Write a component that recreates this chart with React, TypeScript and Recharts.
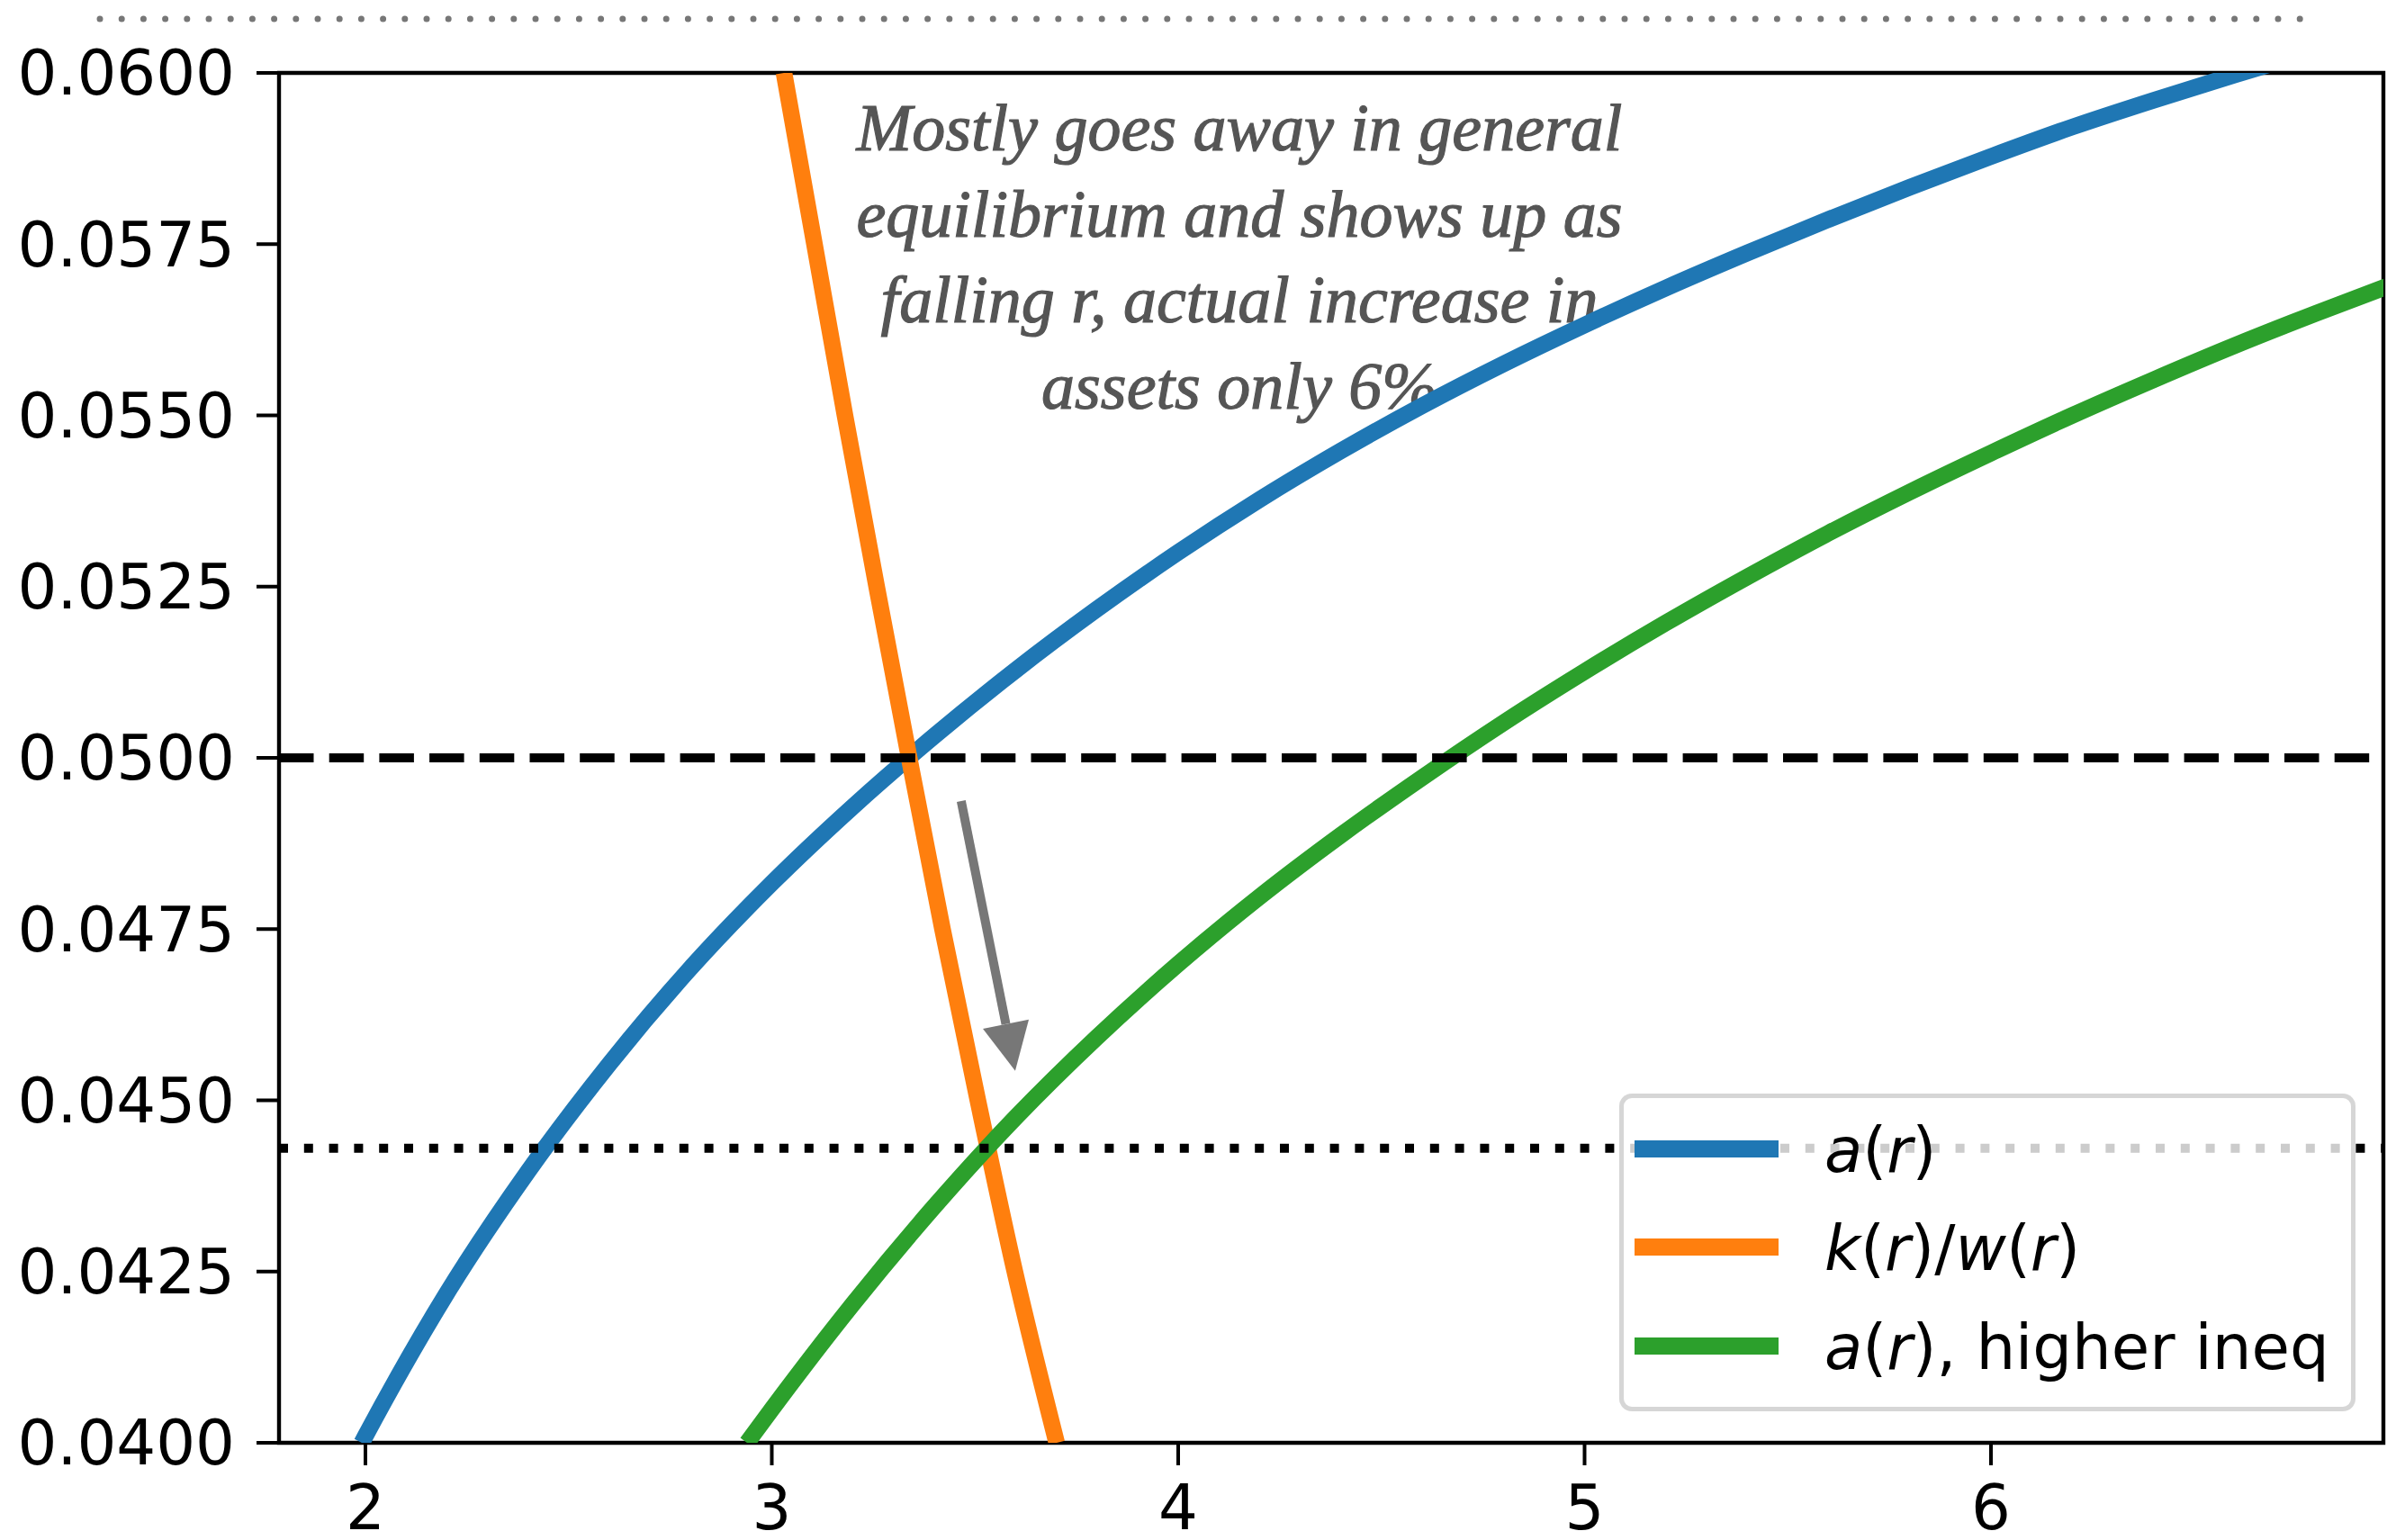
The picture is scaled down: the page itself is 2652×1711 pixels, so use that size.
import {
  ComposedChart,
  Line,
  XAxis,
  YAxis,
  ReferenceLine,
  ReferenceArea,
  Legend,
  Customized,
} from 'recharts';

// a(r)
const blueR = [1.991, 2.0, 2.2, 2.4, 2.6, 2.8, 3.0, 3.2, 3.4, 3.6, 3.8, 4.0, 4.2, 4.4, 4.6, 4.8, 5.0, 5.2, 5.4, 5.6, 5.8, 6.0, 6.2, 6.4, 6.6, 6.7];
const blueA = [0.04000, 0.04010, 0.04218, 0.04396, 0.04553, 0.04693, 0.04817, 0.04929, 0.05032, 0.05128, 0.05217, 0.05300, 0.05377, 0.05448, 0.05514, 0.05575, 0.05632, 0.05686, 0.05737, 0.05786, 0.05833, 0.05878, 0.05921, 0.05960, 0.05997, 0.06015];

// k(r)/w(r)
const orangeR = [3.030, 3.105, 3.180, 3.258, 3.338, 3.420, 3.507, 3.598, 3.701];
const orangeA = [0.0600, 0.0575, 0.0550, 0.0525, 0.0500, 0.0475, 0.0450, 0.0425, 0.0400];

// a(r), higher ineq
const greenR = [2.939, 3.0, 3.2, 3.4, 3.6, 3.8, 4.0, 4.2, 4.4, 4.6, 4.8, 5.0, 5.2, 5.4, 5.6, 5.8, 6.0, 6.2, 6.4, 6.6, 6.8, 7.0];
const greenA = [0.04000, 0.04049, 0.04203, 0.04345, 0.04475, 0.04592, 0.04699, 0.04797, 0.04887, 0.04971, 0.05051, 0.05126, 0.05197, 0.05264, 0.05328, 0.05388, 0.05445, 0.05500, 0.05552, 0.05602, 0.05649, 0.05694];

const xTicks = [2, 3, 4, 5, 6];
const yTicks = [0.04, 0.0425, 0.045, 0.0475, 0.05, 0.0525, 0.055, 0.0575, 0.06];
const xDomain = [1.7874, 6.9657];
const yDomain = [0.04, 0.06];

const dashedLevel = 0.05;
const dottedLevel = 0.0443;
const arrowFrom = [3.466, 0.04937];
const arrowTo = [3.599, 0.04543];

const noteLines = [
  'Mostly goes away in general',
  'equilibrium and shows up as',
  'falling r, actual increase in',
  'assets only 6%',
];

const legendLabels = ['$a(r)$', '$k(r)/w(r)$', '$a(r)$, higher ineq'];
const colors = ['#1f77b4', '#ff7f0e', '#2ca02c'];

const toRows = (xs: number[], ys: number[]) => xs.map((r, i) => ({ r, a: ys[i] }));
const blueData = toRows(blueR, blueA);
const orangeData = toRows(orangeR, orangeA);
const greenData = toRows(greenR, greenA);

const tickFont = { fill: '#000', fontSize: 69, fontFamily: 'DejaVu Sans' };

function ArrowShape(props: any) {
  const { x1, y1, x2, y2 } = props;
  const len = Math.hypot(x2 - x1, y2 - y1) || 1;
  const ux = (x2 - x1) / len;
  const uy = (y2 - y1) / len;
  const bx = x2 - ux * 53;
  const by = y2 - uy * 53;
  const px = -uy * 26;
  const py = ux * 26;
  return (
    <g>
      <line x1={x1} y1={y1} x2={bx} y2={by} stroke="#777777" strokeWidth={10} />
      <polygon points={`${x2},${y2} ${bx + px},${by + py} ${bx - px},${by - py}`} fill="#777777" />
    </g>
  );
}

function Overlay() {
  return (
    <g>
      <line x1={111} y1={21} x2={2562} y2={21} stroke="#777" strokeWidth={7} strokeLinecap="round" strokeDasharray="0 24.2" />
      <text
        x={1377}
        y={167}
        textAnchor="middle"
        fill="#555555"
        stroke="#555555"
        strokeWidth={1.2}
        fontSize={74}
        fontStyle="italic"
        fontFamily="'Liberation Serif', serif"
      >
        {noteLines.map((t, i) => (
          <tspan key={i} x={1377} dy={i === 0 ? 0 : 95.5}>
            {t}
          </tspan>
        ))}
      </text>
    </g>
  );
}

function renderLabel(label: string) {
  return label.split('$').map((part, i) =>
    i % 2 === 1
      ? part.split('').map((ch, j) => (
          <span key={`${i}-${j}`} style={{ fontStyle: /[a-z]/i.test(ch) ? 'oblique' : 'normal' }}>
            {ch}
          </span>
        ))
      : <span key={i}>{part}</span>
  );
}

const rowCenters = [56, 165, 275];

function LegendBox() {
  return (
    <div
      style={{
        position: 'relative',
        width: 818,
        height: 353,
        boxSizing: 'border-box',
        background: 'rgba(255,255,255,0.8)',
        border: '5px solid rgba(204,204,204,0.8)',
        borderRadius: 14,
        fontFamily: 'DejaVu Sans',
        color: '#000',
      }}
    >
      {legendLabels.map((label, i) => (
        <div key={i}>
          <div
            style={{
              position: 'absolute',
              left: 12,
              top: rowCenters[i] - 9.5,
              width: 160,
              height: 19,
              background: colors[i],
            }}
          />
          <div
            style={{
              position: 'absolute',
              left: 223,
              top: rowCenters[i] - 32.4,
              fontSize: 69,
              lineHeight: '69px',
              whiteSpace: 'nowrap',
            }}
          >
            {renderLabel(label)}
          </div>
        </div>
      ))}
    </div>
  );
}

export default function App() {
  return (
    <div style={{ position: 'absolute', left: 0, top: 0, background: '#fff' }}>
      <ComposedChart width={2652} height={1711} margin={{ top: 81, right: 4, bottom: 0, left: 0 }}>
        <XAxis
          dataKey="r"
          type="number"
          domain={xDomain}
          ticks={xTicks}
          allowDataOverflow
          axisLine={false}
          tickLine={{ stroke: '#000', strokeWidth: 4 }}
          tickSize={25}
          tickMargin={22}
          tick={tickFont}
          height={108}
        />
        <YAxis
          type="number"
          domain={yDomain}
          ticks={yTicks}
          allowDataOverflow
          axisLine={false}
          tickLine={{ stroke: '#000', strokeWidth: 4 }}
          tickSize={25}
          tickMargin={24}
          tick={tickFont}
          tickFormatter={(v: number) => v.toFixed(4)}
          width={310}
        />
        <Line data={blueData} dataKey="a" name="a(r)" type="monotone" stroke={colors[0]} strokeWidth={18.5} dot={false} isAnimationActive={false} />
        <Line data={orangeData} dataKey="a" name="k(r)/w(r)" type="monotone" stroke={colors[1]} strokeWidth={18.5} dot={false} isAnimationActive={false} />
        <Line data={greenData} dataKey="a" name="a(r), higher ineq" type="monotone" stroke={colors[2]} strokeWidth={18.5} dot={false} isAnimationActive={false} />
        <ReferenceLine y={dashedLevel} stroke="#000" strokeWidth={10} strokeDasharray="38.5 17.2" />
        <ReferenceLine y={dottedLevel} stroke="#000" strokeWidth={10} strokeDasharray="10 17.8" />
        <ReferenceLine
          segment={[
            { x: arrowFrom[0], y: arrowFrom[1] },
            { x: arrowTo[0], y: arrowTo[1] },
          ]}
          shape={ArrowShape}
          ifOverflow="visible"
        />
        <ReferenceArea
          x1={xDomain[0]}
          x2={xDomain[1]}
          y1={yDomain[0]}
          y2={yDomain[1]}
          fill="none"
          stroke="#000"
          strokeWidth={4.4}
          ifOverflow="visible"
        />
        <Customized component={Overlay} />
        <Legend
          layout="vertical"
          align="center"
          verticalAlign="middle"
          wrapperStyle={{ left: 1799, top: 1215, width: 818, height: 353 }}
          content={() => <LegendBox />}
        />
      </ComposedChart>
    </div>
  );
}
